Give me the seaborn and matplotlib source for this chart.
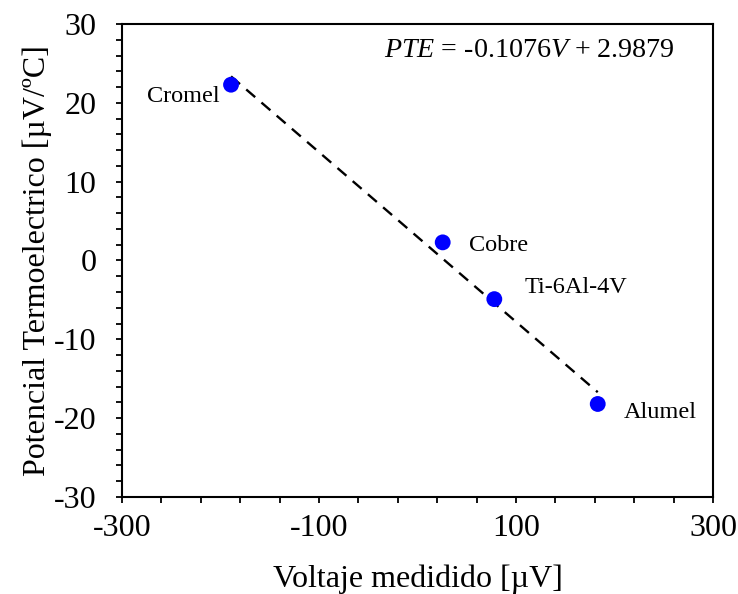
import numpy as np
import pandas as pd
import matplotlib
matplotlib.use("Agg")
import matplotlib.pyplot as plt
from matplotlib.ticker import MultipleLocator
import seaborn as sns

# Data
materials = ["Cromel", "Cobre", "Ti-6Al-4V", "Alumel"]
voltage = [-189.3, 25.6, 78.0, 183.0]
pte = [22.3, 2.3, -4.9, -18.2]
slope = -0.1076
intercept = 2.9879
x_ticks = [-300, -100, 100, 300]
y_ticks = [-30, -20, -10, 0, 10, 20, 30]

df = pd.DataFrame({"material": materials, "V": voltage, "PTE": pte})

sns.set_style("ticks")
plt.rcParams["font.family"] = ["Liberation Serif", "DejaVu Serif"]
plt.rcParams["mathtext.fontset"] = "custom"
plt.rcParams["mathtext.rm"] = "Liberation Serif"
plt.rcParams["mathtext.it"] = "Liberation Serif:italic"
plt.rcParams["axes.unicode_minus"] = False
plt.rcParams["text.color"] = "black"
plt.rcParams["axes.labelcolor"] = "black"
plt.rcParams["xtick.color"] = "black"
plt.rcParams["ytick.color"] = "black"

fig = plt.figure(figsize=(7.38, 5.94), dpi=100)
ax = fig.add_axes([0.1653, 0.1633, 0.9661 - 0.1653, 0.9596 - 0.1633])

# trend line over data range
fit_x = np.array([min(voltage), max(voltage)])
fit_y = slope * fit_x + intercept
sns.lineplot(x=fit_x, y=fit_y, ax=ax, color="black", linewidth=1.7,
             linestyle=(0, (5, 3.5)), zorder=2)

sns.scatterplot(data=df, x="V", y="PTE", ax=ax, color="#0000FF", s=130,
                edgecolor="none", zorder=3)

label_pos = {
    "Cromel": (-200.5, 20.1, "right"),
    "Cobre": (52.6, 1.24, "left"),
    "Ti-6Al-4V": (109.1, -4.17, "left"),
    "Alumel": (209.6, -20.0, "left"),
}
for m in materials:
    lx, ly, ha = label_pos[m]
    ax.text(lx, ly, m, ha=ha, va="baseline", fontsize=17.5)

ax.text(261.4, 26.6, r"$\mathit{PTE}$ = -0.1076$\mathit{V}$ + 2.9879",
        ha="right", va="center", fontsize=20.2)

ax.set_xlim(-300, 300)
ax.set_ylim(-30, 30)
ax.set_xticks(x_ticks)
ax.set_yticks(y_ticks)
ax.xaxis.set_minor_locator(MultipleLocator(40, offset=-300))
ax.yaxis.set_minor_locator(MultipleLocator(2))
ax.tick_params(which="both", direction="out", length=4.5, width=1.3,
               labelsize=23)
ax.tick_params(axis="x", which="both", pad=8)
ax.tick_params(axis="y", which="both", pad=14)

for s in ["left", "right", "top", "bottom"]:
    ax.spines[s].set_visible(True)
    ax.spines[s].set_linewidth(1.5)
    ax.spines[s].set_color("black")

ax.set_xlabel("Voltaje medidido [µV]", fontsize=23, labelpad=15)
ax.set_ylabel("Potencial Termoelectrico [µV/ºC]", fontsize=23, labelpad=1)

fig.savefig("out.png", dpi=100)
